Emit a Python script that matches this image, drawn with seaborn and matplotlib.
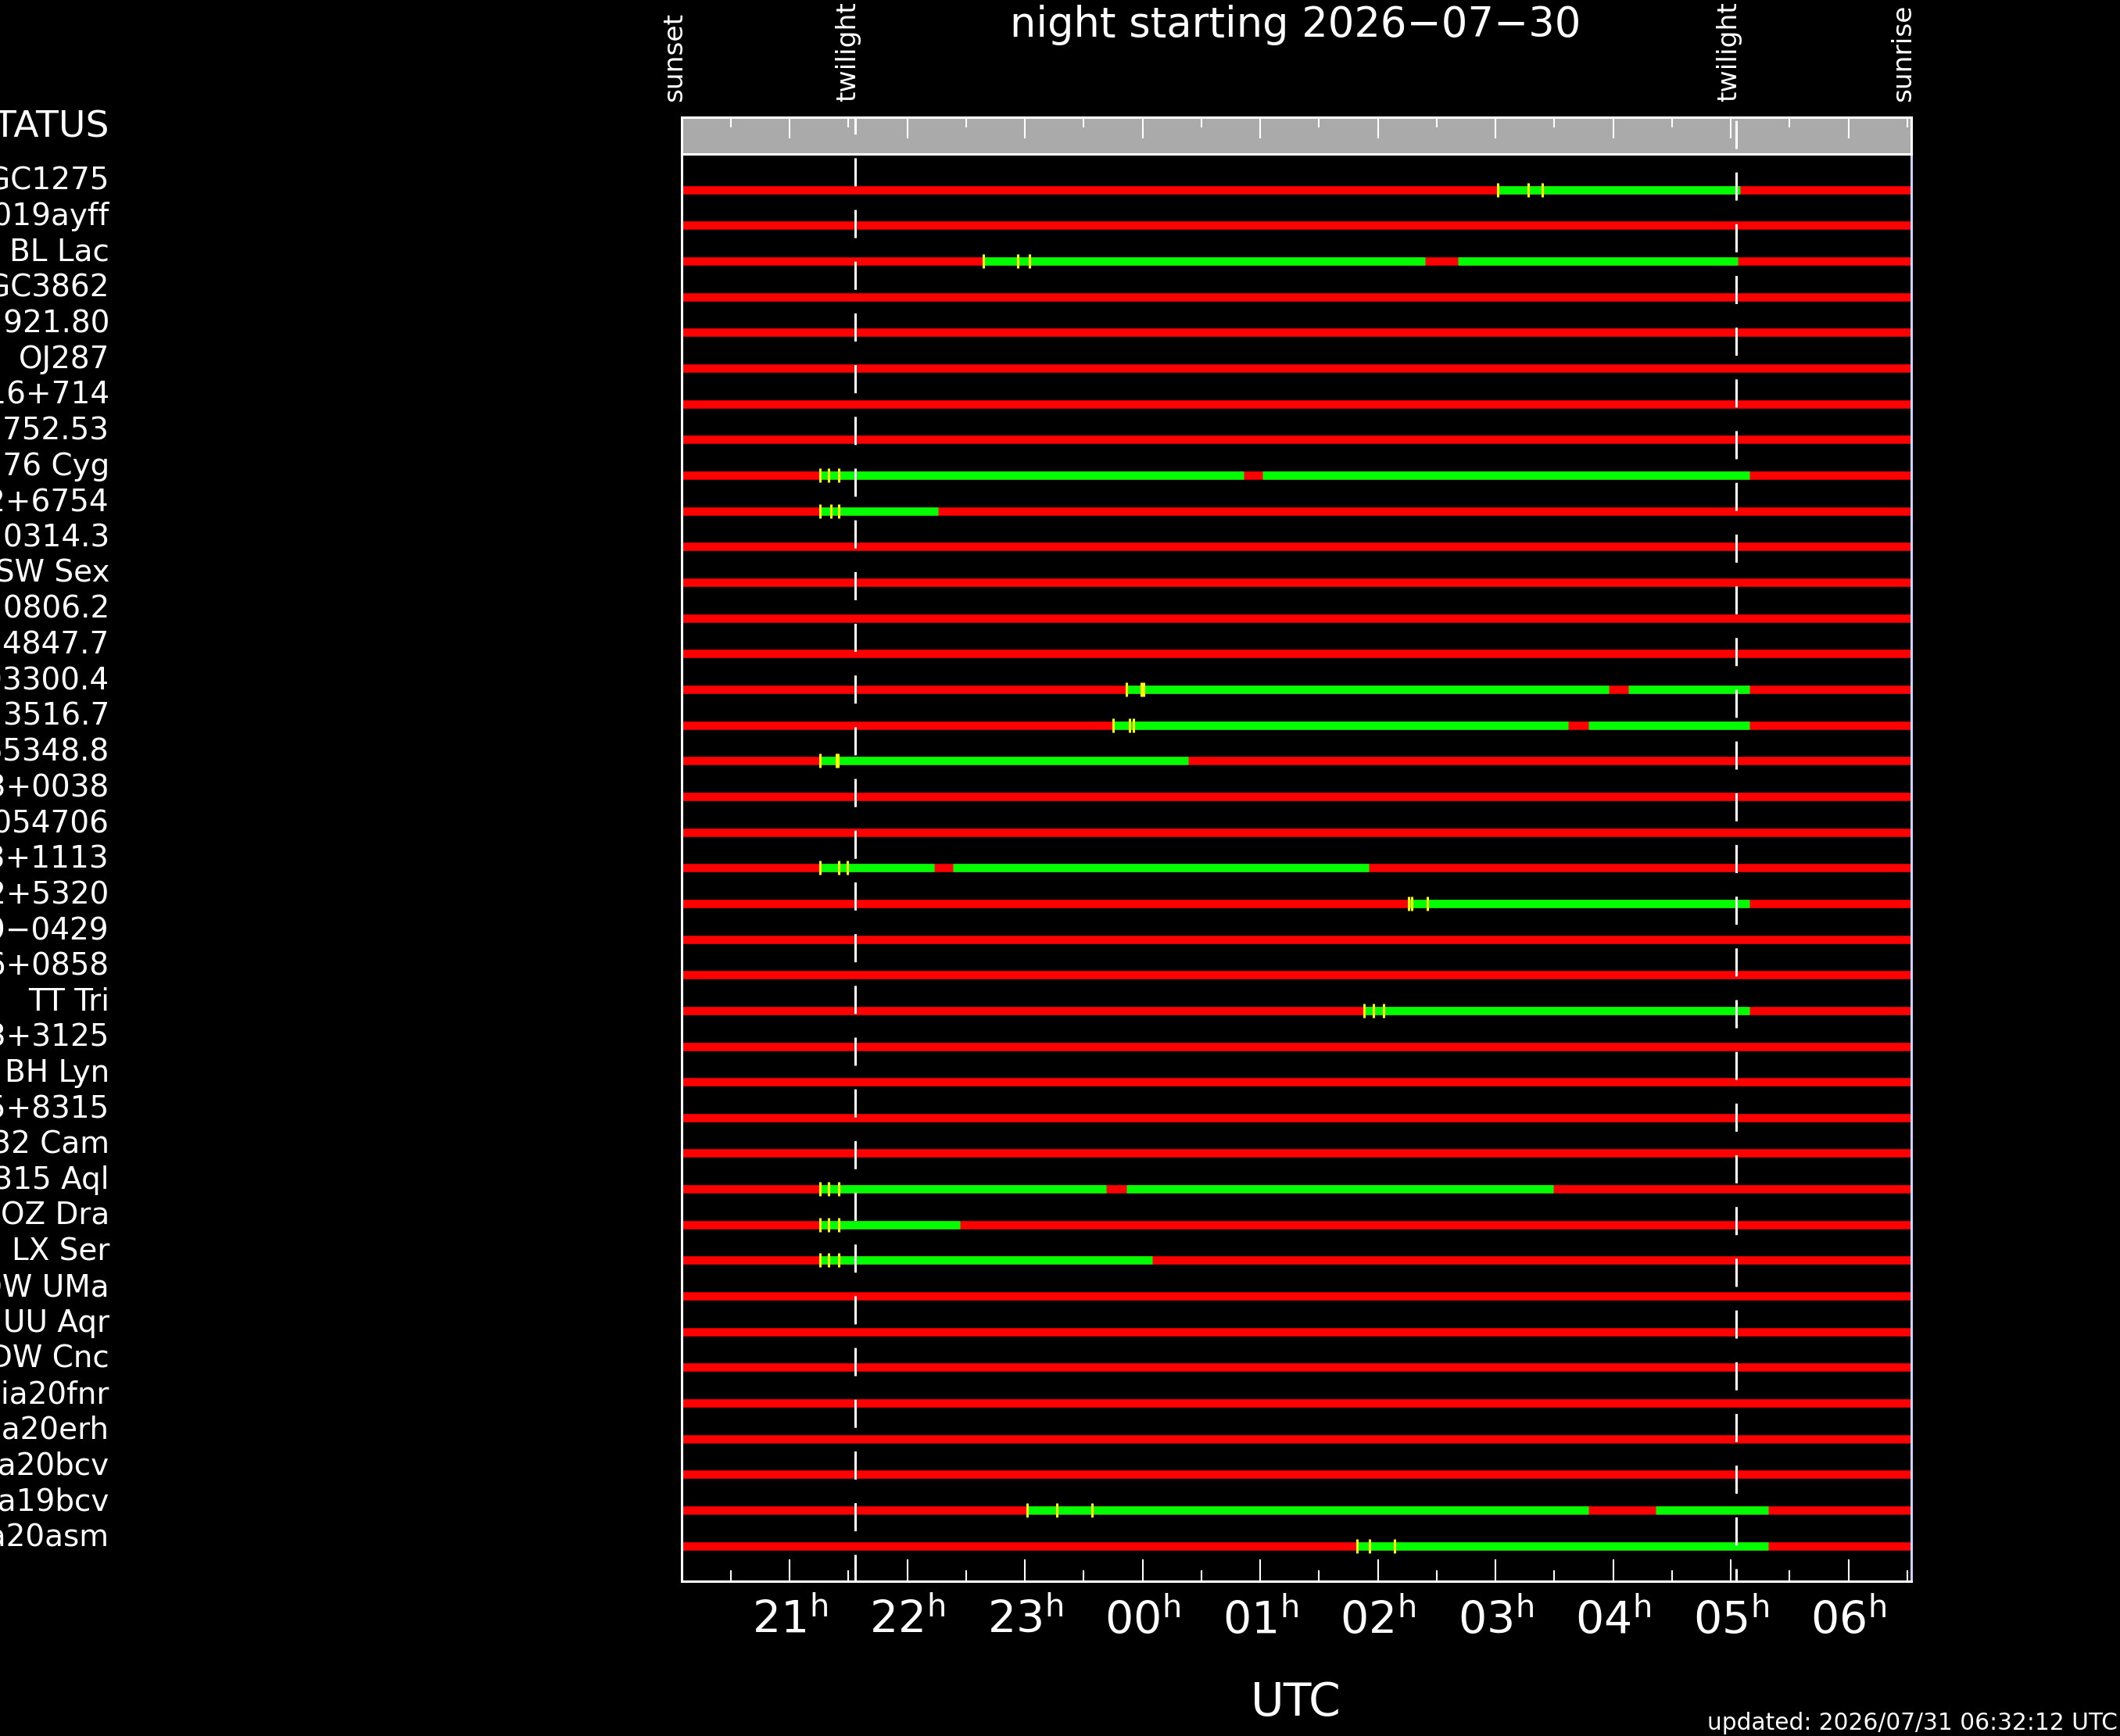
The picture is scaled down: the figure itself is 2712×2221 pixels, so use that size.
import matplotlib
matplotlib.use("Agg")
import matplotlib.pyplot as plt
import matplotlib.transforms as mtransforms
from matplotlib import font_manager
import pandas as pd
import seaborn as sns

# --- night boundaries, UTC hours (values above 24 are next morning) ---
sunset = 20.082
twilight_evening = 21.556
twilight_morning = 29.044
sunrise = 30.531

hour_ticks = [21, 22, 23, 24, 25, 26, 27, 28, 29, 30]
hour_labels = ["21", "22", "23", "00", "01", "02", "03", "04", "05", "06"]
half_hour_ticks = [20.5, 21.5, 22.5, 23.5, 24.5, 25.5, 26.5, 27.5, 28.5, 29.5, 30.5]

targets = [
    "NGC1275", "SN2019ayff", "BL Lac", "NGC3862", "RBS 921.80", "OJ287",
    "S5 0716+714", "J012752.53", "V1776 Cyg", "J1932+6754", "RX 0314.3",
    "SW Sex", "RX 0806.2", "J1034847.7", "J1203300.4", "PG 3516.7",
    "J1165348.8", "J1533+0038", "J0054706", "J2023+1113", "J1942+5320",
    "J1249\u22120429", "J0256+0858", "TT Tri", "J0813+3125", "BH Lyn",
    "J0135+8315", "V332 Cam", "V1315 Aql", "OZ Dra", "LX Ser", "DW UMa",
    "UU Aqr", "DW Cnc", "Gaia20fnr", "Gaia20erh", "Gaia20bcv", "Gaia19bcv",
    "Gaia20asm",
]

# observable (green) windows per target, UTC hours
windows = [
    [(27.02, 29.08)], [], [(22.65, 26.40), (26.68, 29.06)], [], [], [], [], [],
    [(21.26, 24.86), (25.02, 29.16)], [(21.26, 22.26)], [], [], [], [],
    [(23.86, 27.96), (28.13, 29.16)], [(23.75, 27.62), (27.79, 29.16)],
    [(21.26, 24.39)], [], [], [(21.26, 22.23), (22.39, 25.92)],
    [(26.26, 29.16)], [], [], [(25.88, 29.16)], [], [], [], [],
    [(21.26, 23.69), (23.86, 27.49)], [(21.26, 22.45)], [(21.26, 24.08)],
    [], [], [], [], [], [], [(23.02, 27.79), (28.36, 29.32)], [(25.82, 29.32)],
]

# yellow marks at the start of each window
marks = [
    [27.02, 27.28, 27.40], [], [22.65, 22.94, 23.04], [], [], [], [], [],
    [21.26, 21.33, 21.42], [21.26, 21.35, 21.42], [], [], [], [],
    [23.86, 23.99, 24.01], [23.75, 23.89, 23.92], [21.26, 21.40, 21.41], [], [],
    [21.26, 21.42, 21.49], [26.26, 26.29, 26.42], [], [], [25.88, 25.96, 26.05],
    [], [], [], [], [21.26, 21.33, 21.42], [21.26, 21.33, 21.42],
    [21.26, 21.33, 21.42], [], [], [], [], [], [], [23.02, 23.27, 23.57],
    [25.82, 25.93, 26.14],
]

seg = pd.DataFrame(
    [(i, a, b) for i, w in enumerate(windows) for a, b in w],
    columns=["row", "start", "end"],
)
mk = pd.DataFrame(
    [(i, t) for i, m in enumerate(marks) for t in m], columns=["row", "time"]
)

sns.set_theme(style="dark", rc={
    "figure.facecolor": "black", "axes.facecolor": "black",
    "savefig.facecolor": "black", "text.color": "white",
    "axes.grid": False, "lines.scale_dashes": False,
})
available = {f.name for f in font_manager.fontManager.ttflist}
narrow = "Liberation Sans Narrow" if "Liberation Sans Narrow" in available else "DejaVu Sans"
plt.rcParams["font.family"] = ["DejaVu Sans"]

W, H = 2712, 2221
fig = plt.figure(figsize=(W / 100, H / 100), dpi=100)
ax = fig.add_axes([872 / W, 1 - 2023.4 / H, (2444.6 - 872) / W, (2023.4 - 197) / H])
band = fig.add_axes([872 / W, 1 - 197 / H, (2444.6 - 872) / W, 47 / H])

rows = list(range(len(targets)))
ax.hlines(rows, sunset, sunrise, colors="#ff0000", linewidth=7.6, capstyle="butt", zorder=2)
ax.hlines(seg["row"], seg["start"], seg["end"], colors="#00ff00", linewidth=7.6,
          capstyle="butt", zorder=3)
sns.scatterplot(data=mk, x="time", y="row", marker="|", s=165, color="#ffff00",
                linewidth=2.2, zorder=4, ax=ax)

dash = (25.9, 21.75)
for tw, off_main, off_band in [(twilight_evening, 44.1, 10.3), (twilight_morning, 31.0, 44.6)]:
    ax.plot([tw, tw], [-1, 39], color="white", lw=2.2, linestyle=(off_main, dash), zorder=6)
    band.plot([tw, tw], [1, 0], color="white", lw=2.2, linestyle=(off_band, dash), zorder=6)

ax.set_xlim(sunset, sunrise)
ax.set_ylim(39, -1)
band.set_xlim(sunset, sunrise)
band.set_ylim(0, 1)
band.set_facecolor("#aaaaaa")

for a in (ax, band):
    for s in a.spines.values():
        s.set_color("white")
        s.set_linewidth(2.2)
ax.spines["right"].set_color("#d0d0ff")

# bottom time axis
ax.set_xticks(hour_ticks)
ax.set_xticklabels([rf"$\mathregular{{{l}^{{h}}}}$" for l in hour_labels],
                   fontfamily=narrow, fontsize=41, color="white")
ax.set_xticks(half_hour_ticks, minor=True)
ax.tick_params(axis="x", which="major", direction="in", length=20, width=1.5,
               color="white", pad=16, bottom=True)
ax.tick_params(axis="x", which="minor", direction="in", length=10, width=1.5,
               color="white", bottom=True)
ax.tick_params(axis="y", left=False, labelleft=False)
ax.set_ylabel("")
ax.set_xlabel("UTC", fontfamily=narrow, fontsize=42, color="white", labelpad=34)

# top band ticks
band.set_xticks(hour_ticks)
band.set_xticks(half_hour_ticks, minor=True)
band.xaxis.set_ticks_position("top")
band.tick_params(axis="x", which="major", direction="in", length=19.4, width=1.5,
                 color="white", labeltop=False, labelbottom=False)
band.tick_params(axis="x", which="minor", direction="in", length=9.4, width=1.5,
                 color="white")
band.set_yticks([])

# target names (left part runs off the figure edge, as in the original)
name_tr = mtransforms.blended_transform_factory(fig.transFigure, ax.transData)
for i, name in enumerate(targets):
    ax.text(140 / W, i, name, transform=name_tr, ha="right", va="baseline",
            fontsize=28, color="white", clip_on=False)
fig.text(140 / W, 1 - 175 / H, "STATUS", ha="right", va="baseline", fontsize=34, color="white")

# event labels above the band
top_tr = ax.get_xaxis_transform()
for x, lab in [(sunset, "sunset"), (twilight_evening, "twilight"),
               (twilight_morning, "twilight"), (sunrise, "sunrise")]:
    ax.text(x, 1.0367, lab, transform=top_tr, rotation=90, rotation_mode="anchor",
            ha="left", va="baseline", fontsize=24.8, color="white", clip_on=False)

fig.text(1657 / W, 1 - 47 / H, "night starting 2026\u221207\u221230", ha="center",
         va="baseline", fontsize=38, color="white")
fig.text(2709 / W, 1 - 2213 / H, "updated: 2026/07/31 06:32:12 UTC", ha="right",
         va="baseline", fontsize=21.3, color="white")

fig.savefig("out.png", dpi=100, facecolor="black")
